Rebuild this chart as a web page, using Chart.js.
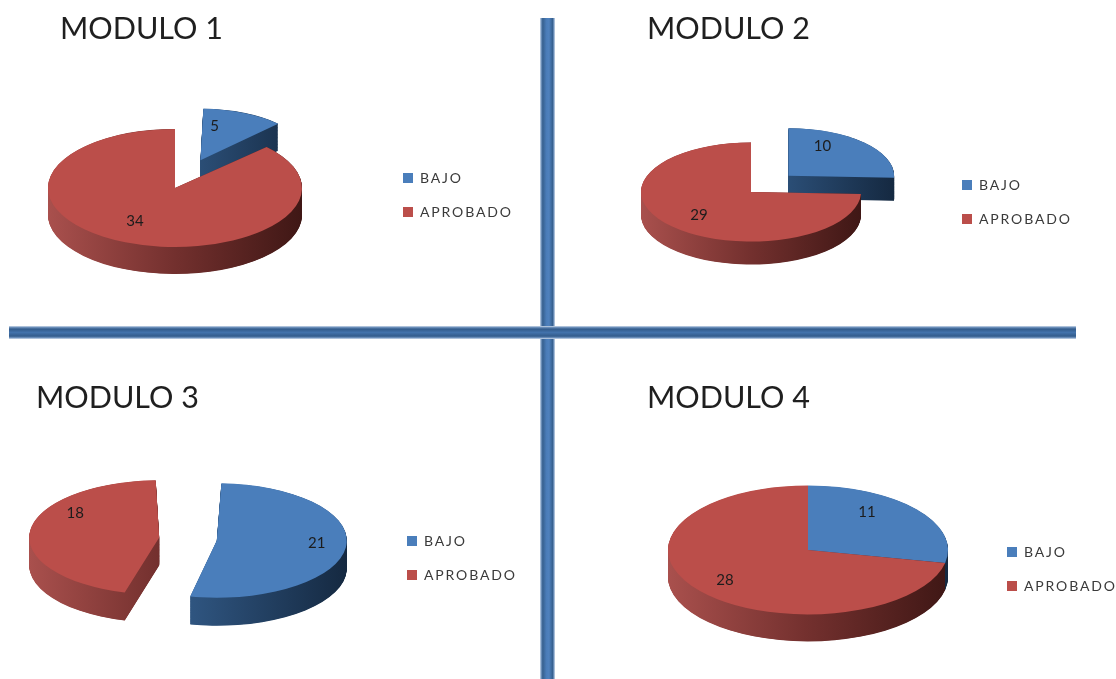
<!DOCTYPE html>
<html>
<head>
<meta charset="utf-8">
<title>Modulos</title>
<script src="https://cdn.jsdelivr.net/npm/chart.js@4"></script>
<style>
  html, body { margin: 0; padding: 0; background: #fff; }
  #page { position: relative; width: 1116px; height: 679px; overflow: hidden; }
  canvas { position: absolute; }
  .bar { position: absolute; }
  #barV { left: 540px; top: 18px; width: 15px; height: 661px;
    background: linear-gradient(to right, #d3deeb 0, #7b9cc4 7%, #36608f 18%, #4a7cb8 42%, #4f81bd 60%, #36608f 84%, #7b9cc4 93%, #d3deeb 100%); }
  #barH { left: 9px; top: 326px; width: 1067px; height: 13px;
    background: linear-gradient(to bottom, #d3deeb 0, #6f92bd 10%, #335c8c 24%, #4272ab 50%, #335c8c 78%, #6f92bd 90%, #d3deeb 100%); }
</style>
</head>
<body>
<div id="page">
  <div class="bar" id="barV"></div>
  <div class="bar" id="barH"></div>
</div>
<script>
// Series
const categories = ['BAJO', 'APROBADO'];
const modulo1 = [5, 34];
const modulo2 = [10, 29];
const modulo3 = [21, 18];
const modulo4 = [11, 28];

const sliceColors = ['#4a7ebb', '#bb4e4a'];
const sideStops = [
  [[0, '#4a78ad'], [0.4, '#2f5580'], [1, '#152941']],
  [[0, '#a9504d'], [0.5, '#73302e'], [1, '#3f1715']]
];
const FONT = 'Lato, Carlito, sans-serif';

// Placement of each module on the page (all values in page pixels)
const layouts = [
  { title: 'MODULO 1', data: modulo1, box: [0, 0, 540, 325], cx: 175, cy: 188, r: 127, k: 0.465, depth: 27,
    offset: [260, 0], radiusScale: [0.87, 1], titleAt: [60, 29], legendAt: [403, 178],
    labelShift: [[14, -34], [-40, 33]] },
  { title: 'MODULO 2', data: modulo2, box: [556, 0, 560, 325], cx: 751, cy: 192, r: 110, k: 0.45, depth: 23,
    offset: [208, 0], radiusScale: [0.96, 1], titleAt: [647, 29], legendAt: [962, 185],
    labelShift: [[34, -30], [-52, 23]] },
  { title: 'MODULO 3', data: modulo3, box: [0, 340, 540, 339], cx: 188, cy: 539, r: 130, k: 0.44, depth: 28,
    offset: [116, 116], radiusScale: [1, 1], titleAt: [36, 398], legendAt: [407, 541],
    labelShift: [[100, 3], [-84, -24]] },
  { title: 'MODULO 4', data: modulo4, box: [556, 340, 560, 339], cx: 808, cy: 550, r: 140, k: 0.46, depth: 27,
    offset: [0, 0], radiusScale: [1, 1], titleAt: [647, 398], legendAt: [1007, 552],
    labelShift: [[59, -38], [-83, 30]] }
];

const LEGEND_PADDING = 20;
const LEGEND_FONT_SIZE = 14;
const AREA_MARGIN = 300;

// Radius that ArcElement adds to a slice when it is pulled out of the pie
function radiusGrowth(arc, offsetOption) {
  const span = arc.endAngle - arc.startAngle;
  return (offsetOption / 4) * (1 - Math.sin(Math.min(Math.PI, span)));
}

// Geometry of one slice as ArcElement draws it
function sliceGeometry(arc) {
  const mid = (arc.startAngle + arc.endAngle) / 2;
  const off = (arc.options.offset || 0) / 4;
  const grow = radiusGrowth(arc, arc.options.offset || 0);
  const R = arc.outerRadius + grow;
  const alpha = arc.endAngle - arc.startAngle;
  const beta = Math.max(0.001, alpha * R - grow / Math.PI) / R;
  const trim = (alpha - beta) / 2;
  return {
    x: arc.x + Math.cos(mid) * off,
    y: arc.y + Math.sin(mid) * off,
    R,
    start: arc.startAngle + trim,
    end: arc.endAngle - trim
  };
}

// Tilted pie: squashes the dataset vertically, extrudes each slice, writes the values
const tiltedPie = {
  id: 'tiltedPie',
  afterLayout(chart, args, o) {
    const ox = o.box[0], oy = o.box[1];
    const cx = o.cx - ox, cy = o.cy - oy, half = o.r + AREA_MARGIN;
    chart.chartArea = { left: cx - half, right: cx + half, top: cy - half, bottom: cy + half, width: 2 * half, height: 2 * half };

    const legend = chart.legend;
    const dx = o.legendAt[0] - ox - LEGEND_PADDING - legend.left;
    const dy = o.legendAt[1] - oy - LEGEND_FONT_SIZE / 2 - LEGEND_PADDING - legend.top;
    legend.left += dx; legend.right += dx + 30; legend.top += dy; legend.bottom += dy;
    if (!legend.spaced) {
      const plainDraw = legend.draw;
      legend.draw = function (area) {
        chart.ctx.letterSpacing = '1.85px';
        plainDraw.call(this, area);
        chart.ctx.letterSpacing = '0px';
      };
      legend.spaced = true;
    }

    const t = chart.titleBlock;
    t.left = o.titleAt[0] - ox;
    t.right = t.left + 300;
    t.top = o.titleAt[1] - oy - t.options.font.size * 0.6;
    t.bottom = t.top + t.options.font.size * 1.2;
  },
  afterDatasetUpdate(chart, args, o) {
    args.meta.data.forEach((arc, i) => {
      arc.outerRadius = arc.outerRadius * o.radiusScale[i] - radiusGrowth(arc, o.offset[i]);
    });
  },
  beforeDatasetDraw(chart, args, o) {
    const ctx = chart.ctx, cx = o.cx - o.box[0], cy = o.cy - o.box[1];
    ctx.save();
    ctx.translate(cx, cy);
    ctx.scale(1, o.k);
    ctx.translate(-cx, -cy);
    const depth = o.depth / o.k;
    const slices = args.meta.data.map((arc, i) => ({ i, at: sliceGeometry(arc) }))
      .sort((a, b) => a.at.y - b.at.y);
    slices.forEach(({ i, at }) => {
      const g = ctx.createLinearGradient(at.x - at.R, 0, at.x + at.R, 0);
      sideStops[i].forEach(s => g.addColorStop(s[0], s[1]));
      ctx.fillStyle = g;
      for (let d = depth; d > 0; d -= 1) {
        ctx.beginPath();
        ctx.moveTo(at.x, at.y + d);
        ctx.arc(at.x, at.y + d, at.R, at.start, at.end);
        ctx.closePath();
        ctx.fill();
      }
    });
  },
  afterDatasetDraw(chart, args, o) {
    const ctx = chart.ctx, cy = o.cy - o.box[1];
    ctx.restore();
    ctx.save();
    ctx.font = '15px ' + FONT;
    ctx.fillStyle = '#1c1c1c';
    ctx.textAlign = 'center';
    ctx.textBaseline = 'middle';
    args.meta.data.forEach((arc, i) => {
      const at = sliceGeometry(arc);
      const x = at.x + o.labelShift[i][0];
      const y = cy + (at.y - cy) * o.k + o.labelShift[i][1];
      ctx.fillText(String(chart.data.datasets[0].data[i]), x, y);
    });
    ctx.restore();
  }
};

const page = document.getElementById('page');

layouts.forEach(o => {
  const canvas = document.createElement('canvas');
  canvas.width = o.box[2];
  canvas.height = o.box[3];
  canvas.style.left = o.box[0] + 'px';
  canvas.style.top = o.box[1] + 'px';
  page.appendChild(canvas);

  new Chart(canvas, {
    type: 'pie',
    data: {
      labels: categories,
      datasets: [{
        data: o.data,
        backgroundColor: sliceColors,
        borderWidth: 0,
        offset: o.offset,
        clip: false
      }]
    },
    options: {
      responsive: false,
      animation: false,
      events: [],
      devicePixelRatio: 1,
      radius: o.r,
      plugins: {
        tooltip: { enabled: false },
        title: {
          display: true,
          text: o.title,
          align: 'start',
          color: '#1f1f1f',
          padding: 0,
          font: { family: FONT, size: 30.5, weight: 'normal' }
        },
        legend: {
          position: 'right',
          align: 'start',
          labels: {
            boxWidth: 10,
            boxHeight: 10,
            padding: LEGEND_PADDING,
            color: '#3a3a3a',
            font: { family: FONT, size: LEGEND_FONT_SIZE }
          }
        },
        tiltedPie: o
      }
    },
    plugins: [tiltedPie]
  });
});
</script>
</body>
</html>
